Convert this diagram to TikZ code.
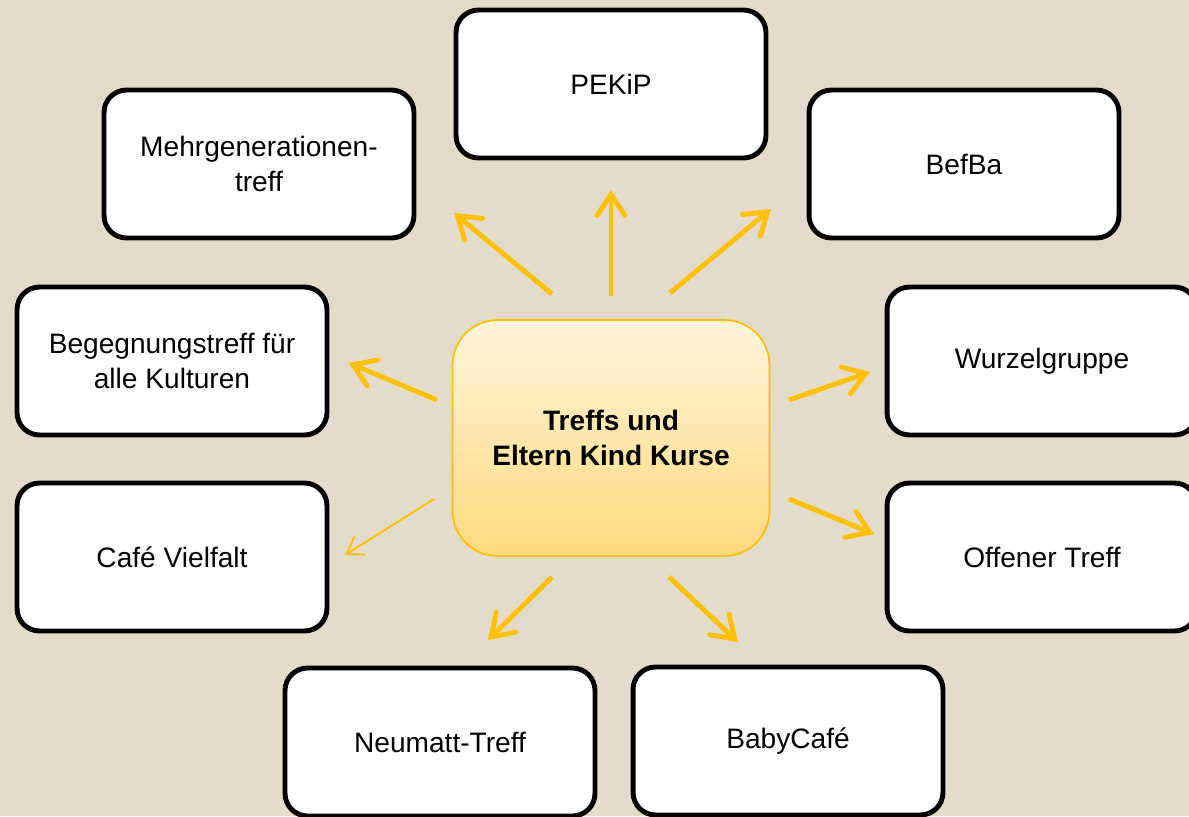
\documentclass[tikz,border=0pt]{standalone}
\usepackage{fontspec}
\setmainfont{Liberation Sans}
\usetikzlibrary{arrows.meta}

\definecolor{bgbeige}{HTML}{E4DCCA}
\definecolor{gold}{HTML}{FFC000}
\definecolor{hubtop}{HTML}{FFF4DC}
\definecolor{hubbottom}{HTML}{FFDA7E}

\begin{document}
\begin{tikzpicture}[x=0.02cm, y=-0.02cm,
  offer/.style={draw, line width=2.8pt, rounded corners=0.45cm, fill=white,
    minimum width=6.2cm, minimum height=2.96cm, align=center,
    font=\fontsize{16}{19.5}\selectfont},
  hub/.style={draw=gold, line width=1pt, rounded corners=0.9cm,
    top color=hubtop, bottom color=hubbottom,
    minimum width=6.34cm, minimum height=4.72cm, align=center,
    font=\fontsize{16}{19.5}\selectfont\bfseries},
  ray/.style={gold, line width=2.8pt,
    -{Straight Barb[length=12pt,width=16pt,line cap=round]}},
  thinray/.style={gold, line width=1.1pt,
    -{Straight Barb[length=9pt,width=12pt]}}]

\useasboundingbox (0,0) rectangle (1189,816);
\fill[bgbeige] (0,0) rectangle (1189,816);

\node[hub] (hub) at (611,438) {Treffs und\\Eltern Kind Kurse};

\node[offer] (pekip) at (611,84) {PEKiP};
\node[offer] (mehrgen) at (259,164) {Mehrgenerationen-\\treff};
\node[offer] (befba) at (964,164) {BefBa};
\node[offer] (begegnung) at (172,361) {Begegnungstreff für\\alle Kulturen};
\node[offer] (wurzel) at (1042,361) {Wurzelgruppe};
\node[offer] (cafe) at (172,557) {Café Vielfalt};
\node[offer] (offen) at (1042,557) {Offener Treff};
\node[offer] (neumatt) at (440,742) {Neumatt-Treff};
\node[offer] (baby) at (788,741) {BabyCafé};

% free ends of the rays
\coordinate (pekipA) at (611,296);   \coordinate (pekipB) at (611,190);
\coordinate (mehrgenA) at (552,294); \coordinate (mehrgenB) at (454,213);
\coordinate (befbaA) at (670,293);   \coordinate (befbaB) at (771,209);
\coordinate (begegA) at (437,400);   \coordinate (begegB) at (349,363);
\coordinate (cafeA) at (434,499);    \coordinate (cafeB) at (345,555);
\coordinate (wurzelA) at (789,400);  \coordinate (wurzelB) at (870,372);
\coordinate (offenA) at (789,499);   \coordinate (offenB) at (874,534);
\coordinate (neumattA) at (552,577); \coordinate (neumattB) at (488,640);
\coordinate (babyA) at (669,577);    \coordinate (babyB) at (738,642);

\draw[ray] (pekipA) -- (pekipB);
\draw[ray] (mehrgenA) -- (mehrgenB);
\draw[ray] (befbaA) -- (befbaB);
\draw[ray] (begegA) -- (begegB);
\draw[thinray] (cafeA) -- (cafeB);
\draw[ray] (wurzelA) -- (wurzelB);
\draw[ray] (offenA) -- (offenB);
\draw[ray] (neumattA) -- (neumattB);
\draw[ray] (babyA) -- (babyB);

\end{tikzpicture}
\end{document}
